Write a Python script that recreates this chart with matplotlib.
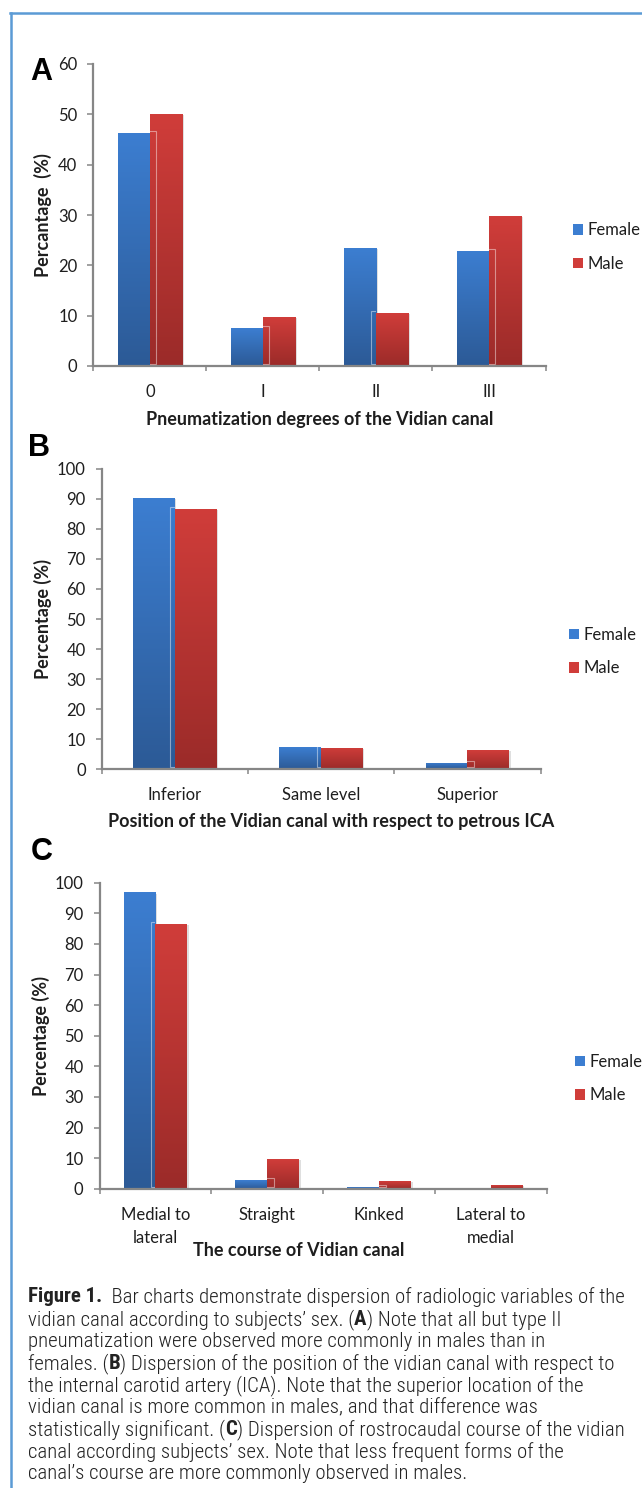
import numpy as np
import matplotlib
matplotlib.use("Agg")
import matplotlib.pyplot as plt
from matplotlib import font_manager
from matplotlib.patches import Patch, Rectangle
from matplotlib.colors import LinearSegmentedColormap
from matplotlib.transforms import ScaledTranslation
import matplotlib.patheffects as pe

# data
groups = ["Female", "Male"]

a_cats = ["0", "I", "II", "III"]
a_female = [46.3, 7.5, 23.4, 22.9]
a_male = [50.0, 9.7, 10.5, 29.8]

b_cats = ["Inferior", "Same level", "Superior"]
b_female = [90.4, 7.3, 2.1]
b_male = [86.5, 7.0, 6.3]

c_cats = ["Medial to\nlateral", "Straight", "Kinked", "Lateral to\nmedial"]
c_female = [96.8, 2.8, 0.5, 0.0]
c_male = [86.4, 9.7, 2.5, 1.1]

caption = [
    [("Figure 1.", "bold"), ("  Bar charts demonstrate dispersion of radiologic variables of the", "light")],
    [("vidian canal according to subjects\u2019 sex. (", "light"), ("A", "bold"), (") Note that all but type II", "light")],
    [("pneumatization were observed more commonly in males than in", "light")],
    [("females. (", "light"), ("B", "bold"), (") Dispersion of the position of the vidian canal with respect to", "light")],
    [("the internal carotid artery (ICA). Note that the superior location of the", "light")],
    [("vidian canal is more common in males, and that difference was", "light")],
    [("statistically significant. (", "light"), ("C", "bold"), (") Dispersion of rostrocaudal course of the vidian", "light")],
    [("canal according subjects\u2019 sex. Note that less frequent forms of the", "light")],
    [("canal\u2019s course are more commonly observed in males.", "light")],
]

W, H = 642, 1488
FONT = "Lato"
installed = {f.name for f in font_manager.fontManager.ttflist}
cap_font = next((f for f in ["Roboto Condensed", "Liberation Sans Narrow", "Liberation Sans"] if f in installed), "DejaVu Sans")

plt.rcParams["font.family"] = [FONT, "DejaVu Sans"]
TXT = "#1e1e1e"
AXC = "#868686"
BLUE = ("#2c5a96", "#3c7ed1")
RED = ("#9b2b29", "#d03d3a")

fig = plt.figure(figsize=(W / 100, H / 100), dpi=100)


def fx(px):
    return px / W


def fy(py):
    return 1 - py / H


def shade(ax, bar, cols):
    x, y = bar.get_xy()
    w, h = bar.get_width(), bar.get_height()
    if h <= 0:
        return
    cmap = LinearSegmentedColormap.from_list("g", list(cols))
    grad = np.linspace(0, 1, 128).reshape(-1, 1)
    im = ax.imshow(grad, extent=(x, x + w, y, y + h), origin="lower", cmap=cmap,
                   aspect="auto", zorder=bar.get_zorder() + 0.05, interpolation="bilinear")
    im.set_clip_path(bar)


def panel(rect, cats, female, male, ymax, ylabel, ylab_x, xlabel, xlab_xy, letter, letter_xy, leg_xy):
    left, top, right, bottom = rect
    ax = fig.add_axes([fx(left), fy(bottom), fx(right - left), (bottom - top) / H])
    n = len(cats)
    x = np.arange(n)
    w = 0.285
    bf = ax.bar(x - w / 2, female, w, color=BLUE[1], zorder=2, linewidth=0)
    bm = ax.bar(x + w / 2, male, w, color=RED[1], zorder=2, linewidth=0)
    for b in list(bf) + list(bm):
        b.set_path_effects([pe.SimplePatchShadow(offset=(1.2, -0.8), shadow_rgbFace="#808080", alpha=0.25), pe.Normal()])
    for b in bf:
        shade(ax, b, BLUE)
    for b in bm:
        shade(ax, b, RED)
    # faint offset outline of the shorter bar seen on the taller neighbour
    for i in range(n):
        f, m = bf[i], bm[i]
        if f.get_height() <= 0 or m.get_height() <= 0:
            continue
        if f.get_height() < m.get_height():
            src, dst, dx = f, m, 6.5
        else:
            src, dst, dx = m, f, -4.5
        tr = ax.transData + ScaledTranslation(dx / 100, 2 / 100, fig.dpi_scale_trans)
        r = Rectangle(src.get_xy(), src.get_width(), src.get_height(), transform=tr,
                      fill=False, edgecolor="white", alpha=0.45, lw=0.8, zorder=3)
        ax.add_patch(r)
        r.set_clip_path(dst)

    ax.set_xlim(-0.5, n - 0.5)
    ax.set_ylim(0, ymax)
    ax.set_yticks(np.arange(0, ymax + 1, 10))
    ax.set_xticks(np.arange(n + 1) - 0.5)
    ax.set_xticklabels([])
    ax.set_xticks(x, minor=True)
    ax.set_xticklabels(cats, minor=True, fontsize=12, color=TXT, linespacing=1.52)
    ax.tick_params(axis="x", which="major", length=3.5, width=1.1, color=AXC, direction="out")
    ax.tick_params(axis="x", which="minor", length=0, pad=13)
    ax.tick_params(axis="y", length=4.5, width=1.1, color=AXC, labelsize=12, labelcolor=TXT, pad=7)
    for s in ["top", "right"]:
        ax.spines[s].set_visible(False)
    for s in ["left", "bottom"]:
        ax.spines[s].set_color(AXC)
        ax.spines[s].set_linewidth(1.6)
    ax.set_facecolor("none")

    fig.text(fx(ylab_x), fy((top + bottom) / 2), ylabel, rotation=90, ha="center", va="center",
             fontsize=13, fontweight="bold", color=TXT)
    fig.text(fx(xlab_xy[0]), fy(xlab_xy[1]), xlabel, ha="center", va="center",
             fontsize=13, fontweight="bold", color=TXT)
    fig.text(fx(letter_xy[0]), fy(letter_xy[1]), letter, ha="left", va="baseline",
             fontsize=22, fontweight="bold", family="Liberation Sans", color="black")
    handles = [Patch(facecolor=BLUE[1], edgecolor="none"), Patch(facecolor=RED[1], edgecolor="none")]
    ax.legend(handles, groups, loc="center left", bbox_to_anchor=(fx(leg_xy[0]), fy(leg_xy[1])),
              bbox_transform=fig.transFigure, frameon=False, fontsize=12, handlelength=0.58,
              handleheight=0.58, handletextpad=0.3, labelspacing=1.07, borderpad=0, borderaxespad=0,
              labelcolor=TXT)
    return ax


panel((93.4, 64, 545.5, 366), a_cats, a_female, a_male, 60, "Percantage  (%)", 43,
      "Pneumatization degrees of the Vidian canal", (319.5, 419), "A", (30, 80), (573, 247.2))
panel((101.6, 468.7, 540.5, 769.3), b_cats, b_female, b_male, 100, "Percentage (%)", 43,
      "Position of the Vidian canal with respect to petrous ICA", (331, 821), "B", (28, 456), (569, 651.5))
panel((99.5, 882.7, 546.7, 1188.7), c_cats, c_female, c_male, 100, "Percentage (%)", 41,
      "The course of Vidian canal", (299, 1250), "C", (31, 860), (575, 1078.5))

# frame: only the top and left edges are visible
fig.add_artist(plt.Line2D([fx(11), fx(11)], [fy(12.5), 0], color="#5b9bd5", lw=1.8))
fig.add_artist(plt.Line2D([fx(10.2), 1], [fy(12.5), fy(12.5)], color="#5b9bd5", lw=1.8))

# caption with bold pieces
y0, dy = 1297, 22.1
for i, line in enumerate(caption):
    last = None
    for txt, wt in line:
        kw = dict(fontsize=15, fontweight=wt, family=cap_font, color="#222222", va="center", ha="left")
        if last is None:
            last = fig.text(fx(28), fy(y0 + i * dy), txt, **kw)
        else:
            last = fig.axes[0].annotate(txt, xy=(1, 0.5), xycoords=last, annotation_clip=False, **kw)

fig.savefig("out.png", dpi=100, facecolor="white")
